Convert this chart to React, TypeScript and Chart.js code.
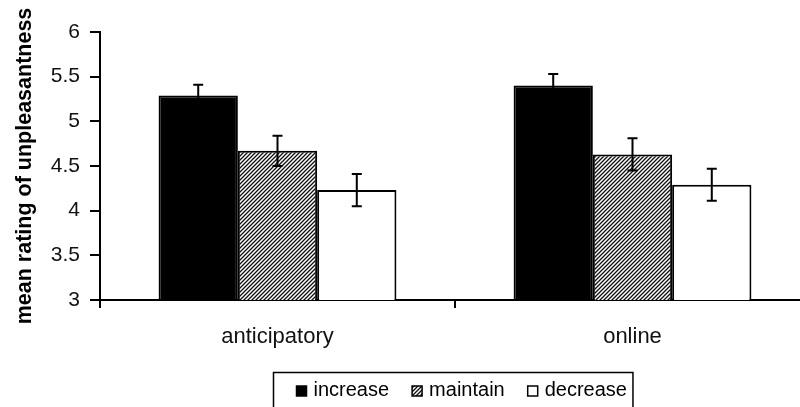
import React, { useEffect, useRef } from 'react';
import { Chart, registerables } from 'chart.js';

Chart.register(...registerables);

const categories = ['anticipatory', 'online'];
const seriesNames = ['increase', 'maintain', 'decrease'];
const increaseValues = [5.29, 5.4];
const maintainValues = [4.67, 4.63];
const decreaseValues = [4.23, 4.29];
const increaseErrors = [0.12, 0.13];
const maintainErrors = [0.17, 0.18];
const decreaseErrors = [0.18, 0.18];
const yTicks = [3, 3.5, 4, 4.5, 5, 5.5, 6];
const yTitle = 'mean rating of unpleasantness';

const FAMILY = "'Liberation Sans', Arial, sans-serif";

function makeHatch(ctx: CanvasRenderingContext2D): CanvasPattern | string {
  const tile = document.createElement('canvas');
  tile.width = 4;
  tile.height = 4;
  const g = tile.getContext('2d')!;
  g.fillStyle = '#ffffff';
  g.fillRect(0, 0, 4, 4);
  g.strokeStyle = '#111111';
  g.lineWidth = 1.3;
  g.beginPath();
  g.moveTo(-1, 5);
  g.lineTo(5, -1);
  g.moveTo(-1, 1);
  g.lineTo(1, -1);
  g.moveTo(3, 5);
  g.lineTo(5, 3);
  g.stroke();
  return ctx.createPattern(tile, 'repeat') || '#888';
}

export default function App() {
  const ref = useRef<HTMLCanvasElement | null>(null);

  useEffect(() => {
    const canvas = ref.current;
    if (!canvas) return;
    const ctx0 = canvas.getContext('2d')!;
    const hatch = makeHatch(ctx0);
    const errors = [increaseErrors, maintainErrors, decreaseErrors];

    const errorBarPlugin = {
      id: 'errorBars',
      afterDatasetsDraw(chart: any) {
        const ctx = chart.ctx;
        const y = chart.scales.y;
        chart.data.datasets.forEach((ds: any, i: number) => {
          const meta = chart.getDatasetMeta(i);
          meta.data.forEach((bar: any, j: number) => {
            const v = ds.data[j];
            const e = errors[i][j];
            const yt = y.getPixelForValue(v + e);
            const yb = y.getPixelForValue(v - e);
            ctx.save();
            ctx.strokeStyle = '#000';
            ctx.lineWidth = 2;
            ctx.beginPath();
            ctx.moveTo(bar.x, yt);
            ctx.lineTo(bar.x, yb);
            ctx.moveTo(bar.x - 5, yt);
            ctx.lineTo(bar.x + 5, yt);
            ctx.moveTo(bar.x - 5, yb);
            ctx.lineTo(bar.x + 5, yb);
            ctx.stroke();
            ctx.restore();
          });
        });
      },
    };

    const legendPlugin = {
      id: 'boxLegend',
      afterDraw(chart: any) {
        const ctx = chart.ctx;
        ctx.save();
        ctx.font = `20px ${FAMILY}`;
        const dss = chart.data.datasets;
        const sw = 10, gapText = 7, gapItem = 23, padL = 23, padR = 6;
        const widths = dss.map((d: any) => ctx.measureText(d.label).width);
        const total =
          widths.reduce((a: number, w: number) => a + sw + gapText + w, 0) +
          gapItem * (dss.length - 1);
        const boxW = total + padL + padR;
        const cx = (chart.chartArea.left + chart.chartArea.right) / 2 - 2.5;
        const bx = Math.round(cx - boxW / 2) + 0.5;
        const by = 372.5;
        ctx.strokeStyle = '#000';
        ctx.lineWidth = 1.5;
        ctx.strokeRect(bx, by, boxW, 60);
        let x = bx + padL;
        dss.forEach((ds: any, i: number) => {
          ctx.fillStyle = ds.backgroundColor;
          ctx.fillRect(x, 386, sw, sw);
          ctx.strokeStyle = '#000';
          ctx.lineWidth = 1.5;
          ctx.strokeRect(x, 386, sw, sw);
          ctx.fillStyle = '#000';
          ctx.textBaseline = 'alphabetic';
          ctx.textAlign = 'left';
          ctx.fillText(ds.label, x + sw + gapText, 396);
          x += sw + gapText + widths[i] + gapItem;
        });
        ctx.restore();
      },
    };

    const chart = new Chart(canvas, {
      type: 'bar',
      data: {
        labels: categories,
        datasets: [
          {
            label: seriesNames[0],
            data: increaseValues,
            backgroundColor: '#000000',
            borderColor: '#000000',
            borderWidth: 2,
          },
          {
            label: seriesNames[1],
            data: maintainValues,
            backgroundColor: hatch as any,
            borderColor: '#000000',
            borderWidth: 2,
          },
          {
            label: seriesNames[2],
            data: decreaseValues,
            backgroundColor: '#ffffff',
            borderColor: '#000000',
            borderWidth: 2,
          },
        ],
      },
      options: {
        animation: false,
        responsive: false,
        devicePixelRatio: 1,
        datasets: {
          bar: { categoryPercentage: 0.67, barPercentage: 1.0 },
        },
        layout: { padding: { top: 32, left: 0, right: 0, bottom: 0 } },
        plugins: {
          legend: { display: false },
          tooltip: { enabled: false },
        },
        scales: {
          x: {
            offset: true,
            grid: {
              offset: true,
              drawOnChartArea: false,
              drawTicks: true,
              tickLength: 8,
              color: '#000',
              lineWidth: 2,
            },
            border: { color: '#000', width: 2 },
            ticks: {
              font: { family: FAMILY, size: 22 },
              color: '#111',
              padding: 16,
            },
            afterFit: (s: any) => {
              s.height = 107;
              s.paddingLeft = 0;
              s.paddingRight = 0;
            },
          },
          y: {
            min: 3,
            max: 6,
            afterBuildTicks: (s: any) => {
              s.ticks = yTicks.map((v) => ({ value: v }));
            },
            ticks: {
              font: { family: FAMILY, size: 21 },
              color: '#111',
              padding: 10,
              callback: (v: any) => String(v),
            },
            grid: {
              drawOnChartArea: false,
              drawTicks: true,
              tickLength: 10,
              color: '#000',
              lineWidth: 2,
            },
            border: { color: '#000', width: 2 },
            title: {
              display: true,
              text: yTitle,
              font: { family: FAMILY, size: 21.5, weight: 'bold' },
              color: '#000',
              padding: { top: 12, bottom: 0 },
            },
            afterFit: (s: any) => {
              s.width = 100;
              s.paddingTop = 0;
              s.paddingBottom = 0;
            },
          },
        },
      },
      plugins: [errorBarPlugin, legendPlugin],
    });

    return () => chart.destroy();
  }, []);

  return (
    <div
      style={{
        position: 'fixed',
        left: 0,
        top: 0,
        width: 800,
        height: 407,
        overflow: 'hidden',
        background: '#fff',
      }}
    >
      <canvas ref={ref} width={810} height={407} style={{ display: 'block' }} />
    </div>
  );
}
